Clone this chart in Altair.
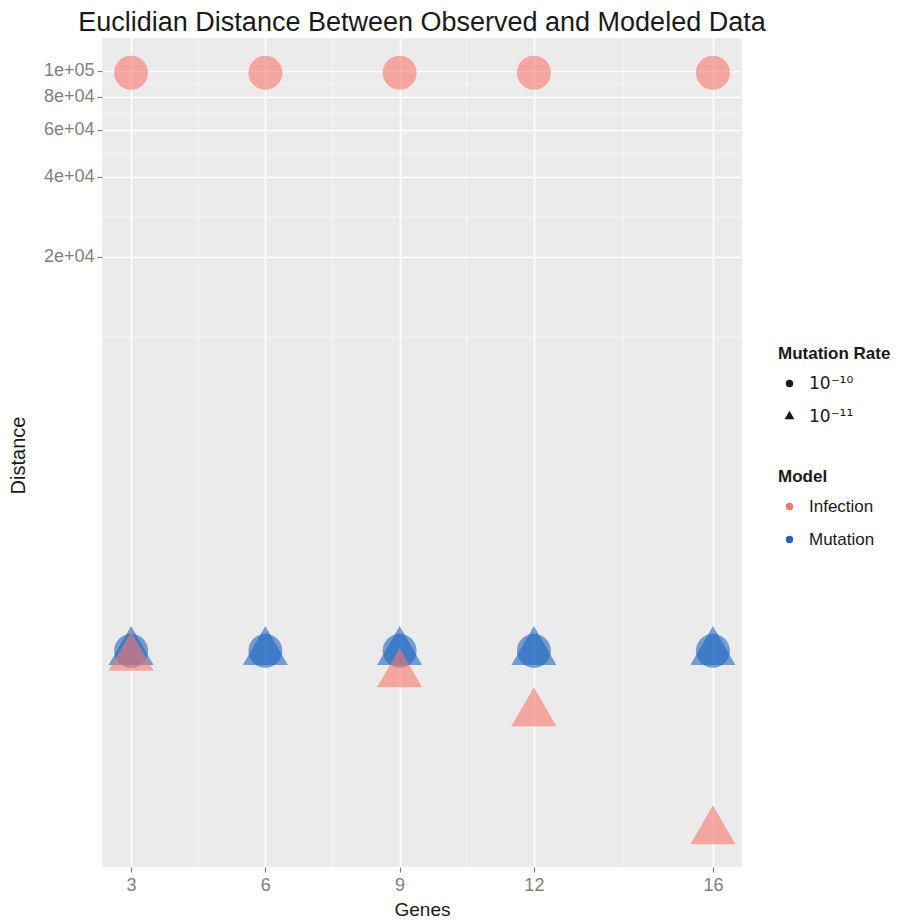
import altair as alt
import pandas as pd

# ---- data ----
genes = [3, 6, 9, 12, 16]
rate_labels = ["10⁻¹⁰", "10⁻¹¹"]
models = ["Infection", "Mutation"]
infection_rate10 = [98500, 98500, 98500, 98500, 98500]
infection_rate11 = [624, None, 541, 386, 139]
mutation_rate10 = [662, 662, 662, 662, 662]
mutation_rate11 = [655, 655, 655, 655, 655]
y_ticks = [20000, 40000, 60000, 80000, 100000]
y_minor = [10000, 28284, 48990, 69282, 89443]
x_minor = [4.5, 7.5, 10.5, 14]

rows = []
for model, series in [("Mutation", [mutation_rate10, mutation_rate11]),
                      ("Infection", [infection_rate10, infection_rate11])]:
    for rate, vals in zip(rate_labels, series):
        for g, v in zip(genes, vals):
            if v is not None:
                rows.append({"Genes": g, "Distance": v, "Model": model, "Rate": rate})
df = pd.DataFrame(rows)

FONT = "Liberation Sans"
# equilateral triangle centred on its centroid (as R's pch 17), a bit larger than the circle
TRI = "M0,-1.5283L1.3235,0.7641L-1.3235,0.7641Z"

xscale = alt.Scale(domain=[2.35, 16.65], nice=False, zero=False)
yscale = alt.Scale(type="log", domain=[102, 133000], nice=False)

xaxis = alt.Axis(values=genes, grid=True, gridColor="white", gridWidth=1.6,
                 domain=False, tickColor="#7F7F7F", tickSize=5, tickWidth=1.2,
                 labelColor="#7F7F7F", labelFontSize=18, labelFont=FONT, labelPadding=4,
                 title="Genes", titleFont=FONT, titleFontSize=19, titleFontWeight="normal",
                 titleColor="#1a1a1a", titleX=320, titleY=42, titleBaseline="middle",
                 titleAlign="center")
yaxis = alt.Axis(values=y_ticks, grid=True, gridColor="white", gridWidth=1.6,
                 domain=False, tickColor="#7F7F7F", tickSize=5, tickWidth=1.2,
                 labelColor="#7F7F7F", labelFontSize=18, labelFont=FONT, labelPadding=3,
                 labelExpr="replace(format(datum.value, '.0e'), 'e+', 'e+0')",
                 title="Distance", titleFont=FONT, titleFontSize=20, titleFontWeight="normal",
                 titleColor="#1a1a1a", titleX=-84, titleY=417, titleAngle=270,
                 titleBaseline="middle", titleAlign="center")

vminor = alt.Chart(pd.DataFrame({"Genes": x_minor})).mark_rule(
    color="#F5F5F5", strokeWidth=1).encode(
    x=alt.X("Genes:Q", scale=xscale, axis=xaxis))
hminor = alt.Chart(pd.DataFrame({"Distance": y_minor})).mark_rule(
    color="#F5F5F5", strokeWidth=1).encode(
    y=alt.Y("Distance:Q", scale=yscale, axis=yaxis))

legend_common = dict(orient="none", legendX=676, symbolOpacity=1, symbolStrokeWidth=0,
                     symbolOffset=3, labelOffset=11, rowPadding=15, titlePadding=12,
                     labelFontSize=17, titleFontSize=17, titleFont=FONT,
                     titleFontWeight="bold", titleColor="#1a1a1a", labelColor="#1a1a1a")

points = alt.Chart(df).mark_point(filled=True, opacity=0.6, strokeWidth=0, size=1156).encode(
    x=alt.X("Genes:Q", scale=xscale, axis=xaxis),
    y=alt.Y("Distance:Q", scale=yscale, axis=yaxis),
    color=alt.Color("Model:N", scale=alt.Scale(domain=models, range=["#F8766D", "#1F65C0"]),
                    legend=alt.Legend(title="Model", legendY=431, symbolType="circle",
                                      symbolSize=55, labelFont=FONT, **legend_common)),
    shape=alt.Shape("Rate:N", scale=alt.Scale(domain=rate_labels, range=["circle", TRI]),
                    legend=alt.Legend(title="Mutation Rate", legendY=308, symbolSize=55,
                                      labelFont="DejaVu Sans",
                                      symbolFillColor="#1a1a1a", **legend_common)),
)

chart = alt.layer(vminor, hminor, points).properties(
    width=640, height=829,
    title=alt.TitleParams("Euclidian Distance Between Observed and Modeled Data",
                          font=FONT, fontSize=27, fontWeight="normal", color="#1a1a1a",
                          anchor="middle", offset=1),
    padding={"left": 0, "top": 0, "right": 0, "bottom": 0},
).configure(background="white").configure_view(fill="#EBEBEB", strokeWidth=0)

chart.save("out.html", embed_options={"renderer": "svg", "actions": False})
